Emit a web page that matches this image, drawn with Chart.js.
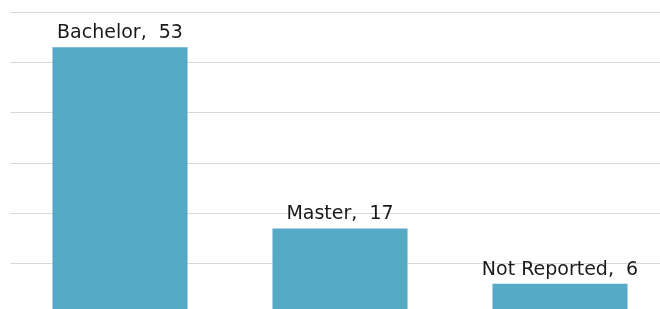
<!DOCTYPE html>
<html>
<head>
<meta charset="utf-8">
<script src="https://cdn.jsdelivr.net/npm/chart.js@4/dist/chart.umd.min.js"></script>
<style>
  html, body { margin: 0; padding: 0; background: #fff; overflow: hidden; }
  #wrap { position: absolute; left: 0; top: 0; width: 670px; height: 314px; }
</style>
</head>
<body>
<div id="wrap"><canvas id="chart"></canvas></div>
<script>
const categories = ["Bachelor", "Master", "Not Reported"];
const counts = [53, 17, 6];
const yTicks = [0, 10, 20, 30, 40, 50, 60];

// category name + value above each bar
const barLabels = {
  id: "barLabels",
  afterDatasetsDraw(chart) {
    const ctx = chart.ctx;
    const meta = chart.getDatasetMeta(0);
    ctx.save();
    ctx.font = "19px 'DejaVu Sans', Verdana, sans-serif";
    ctx.fillStyle = "#1a1a1a";
    ctx.textAlign = "center";
    ctx.textBaseline = "alphabetic";
    meta.data.forEach((bar, i) => {
      ctx.fillText(categories[i] + ",  " + counts[i], bar.x, bar.y - 9);
    });
    ctx.restore();
  },
};

new Chart(document.getElementById("chart"), {
  type: "bar",
  data: {
    labels: categories,
    datasets: [
      {
        data: counts,
        backgroundColor: "#55aac6",
        borderWidth: 0,
        barPercentage: 1,
        categoryPercentage: 0.614,
      },
    ],
  },
  options: {
    responsive: true,
    maintainAspectRatio: false,
    animation: false,
    layout: { padding: { left: 10, top: 12, right: 0, bottom: 0 } },
    plugins: {
      legend: { display: false },
      tooltip: { enabled: false },
    },
    scales: {
      x: { display: false },
      y: {
        min: yTicks[0],
        max: yTicks[yTicks.length - 1],
        ticks: { display: false, stepSize: 10 },
        border: { display: false },
        grid: { color: "#d9d9d9", lineWidth: 1, drawTicks: false },
      },
    },
  },
  plugins: [barLabels],
});
</script>
</body>
</html>
